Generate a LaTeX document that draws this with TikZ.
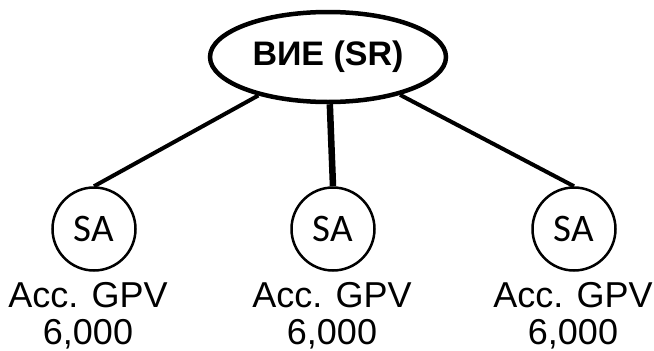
\documentclass[tikz,border=0pt]{standalone}
\usepackage{fontspec}
\setmainfont{Liberation Sans}
\newfontfamily\agentfont{Carlito}
\usetikzlibrary{positioning, shapes.geometric}

\begin{document}
\begin{tikzpicture}[x=1pt, y=-1pt]
		\tikzset {every node/.style={inner sep=0pt}, root/.style={ellipse, draw, line width=4.5pt, minimum width=236pt, minimum height=90pt, font=\fontsize{34}{36}\selectfont\bfseries}, agent/.style={circle, draw, line width=2.5pt, minimum size=83pt, font=\agentfont\fontsize{39}{40}\selectfont}, info/.style={align=center, anchor=north, font=\fontsize{36}{37}\selectfont} }
		\useasboundingbox (0,0) rectangle (654,351);

		\node[root] (sr) at (328,57) {ВИЕ (SR)};
		\node[agent] (sa1) at (94,229) {SA};
		\node[agent] (sa2) at (333,229) {SA};
		\node[agent] (sa3) at (574,229) {SA};

		\node[info] (gpv1) at (88,282) {Acc. GPV\\6,000};
		\node[info] (gpv2) at (332,282) {Acc. GPV\\6,000};
		\node[info] (gpv3) at (573,282) {Acc. GPV\\6,000};

		\draw[line width=4pt]
			(sr) edge (sa1.north)
			(sr) edge[line width=6.5pt] (sa2.north)
			(sr) edge (sa3.north);
	\end{tikzpicture}
\end{document}
